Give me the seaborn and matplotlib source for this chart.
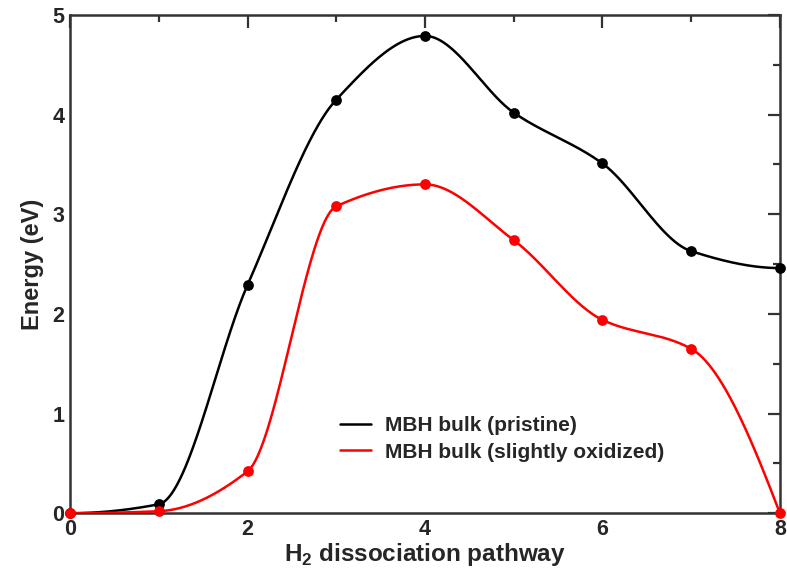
import numpy as np
import pandas as pd
import matplotlib
matplotlib.use("Agg")
import matplotlib.pyplot as plt
import seaborn as sns
from matplotlib.ticker import MultipleLocator

# ---- data ----
steps = [0, 1, 2, 3, 4, 5, 6, 7, 8]
pristine = [0.0, 0.09, 2.29, 4.15, 4.79, 4.02, 3.51, 2.63, 2.46]
oxidized = [0.0, 0.02, 0.42, 3.08, 3.30, 2.74, 1.94, 1.65, 0.0]
labels = ["MBH bulk (pristine)", "MBH bulk (slightly oxidized)"]
colors = ["black", "#ff0000"]


def pchip(x, y, xs):
    x = np.asarray(x, float)
    y = np.asarray(y, float)
    h = np.diff(x)
    delta = np.diff(y) / h
    n = len(x)
    d = np.zeros(n)
    for k in range(1, n - 1):
        if delta[k - 1] * delta[k] > 0:
            w1 = 2 * h[k] + h[k - 1]
            w2 = h[k] + 2 * h[k - 1]
            d[k] = (w1 + w2) / (w1 / delta[k - 1] + w2 / delta[k])

    def edge(h0, h1, m0, m1):
        dd = ((2 * h0 + h1) * m0 - h0 * m1) / (h0 + h1)
        if np.sign(dd) != np.sign(m0):
            dd = 0.0
        elif np.sign(m0) != np.sign(m1) and abs(dd) > abs(3 * m0):
            dd = 3 * m0
        return dd

    d[0] = edge(h[0], h[1], delta[0], delta[1])
    d[-1] = edge(h[-1], h[-2], delta[-1], delta[-2])
    idx = np.clip(np.searchsorted(x, xs) - 1, 0, n - 2)
    hh = x[idx + 1] - x[idx]
    s = (xs - x[idx]) / hh
    h00 = 2 * s**3 - 3 * s**2 + 1
    h10 = s**3 - 2 * s**2 + s
    h01 = -2 * s**3 + 3 * s**2
    h11 = s**3 - s**2
    return h00 * y[idx] + h10 * hh * d[idx] + h01 * y[idx + 1] + h11 * hh * d[idx + 1]


sns.set_theme(style="white")
plt.rcParams['font.family'] = ['Liberation Sans', 'DejaVu Sans']
plt.rcParams['font.weight'] = 'bold'
plt.rcParams['mathtext.fontset'] = 'custom'
plt.rcParams['mathtext.rm'] = 'Liberation Sans'
plt.rcParams['mathtext.bf'] = 'Liberation Sans:bold'

fig = plt.figure(figsize=(7.87, 5.76), dpi=100)
ax = fig.add_axes([0.089, 0.109, 0.902, 0.865])

xs = np.linspace(0, 8, 801)
for vals, lab, col, z in zip([pristine, oxidized], labels, colors, [3, 4]):
    curve = pd.DataFrame({"x": xs, "y": pchip(steps, vals, xs)})
    sns.lineplot(data=curve, x="x", y="y", ax=ax, color=col, lw=1.8,
                 label=lab, sort=False, estimator=None, zorder=z)
    pts = pd.DataFrame({"x": steps, "y": vals})
    sns.scatterplot(data=pts, x="x", y="y", ax=ax, color=col, s=60,
                    edgecolor=col, linewidth=0, zorder=z + 2, clip_on=False,
                    legend=False)

ax.set_xlim(0, 8)
ax.set_ylim(0, 5)
ax.xaxis.set_major_locator(MultipleLocator(2))
ax.xaxis.set_minor_locator(MultipleLocator(1))
ax.yaxis.set_major_locator(MultipleLocator(1))
ax.yaxis.set_minor_locator(MultipleLocator(0.5))
ax.tick_params(which="both", direction="in", top=True, right=True,
               color="#333333", width=1.6, labelsize=15.5, pad=4)
ax.tick_params(which="major", length=9)
ax.tick_params(which="minor", length=5)
for lab in ax.get_xticklabels() + ax.get_yticklabels():
    lab.set_fontweight("bold")
for sp in ax.spines.values():
    sp.set_color("#333333")
    sp.set_linewidth(1.8)

ax.set_xlabel(r"H$_\mathbf{2}$ dissociation pathway", fontsize=17.5,
              fontweight="bold", labelpad=1)
ax.set_ylabel("Energy (eV)", fontsize=17, fontweight="bold", labelpad=6)

leg = ax.legend(loc="center left", bbox_to_anchor=(0.38, 0.149), frameon=False,
                fontsize=15, handlelength=1.5, handletextpad=0.65,
                labelspacing=0.35, borderpad=0, borderaxespad=0)
for t in leg.get_texts():
    t.set_fontweight("bold")

fig.savefig("out.png", dpi=100)
